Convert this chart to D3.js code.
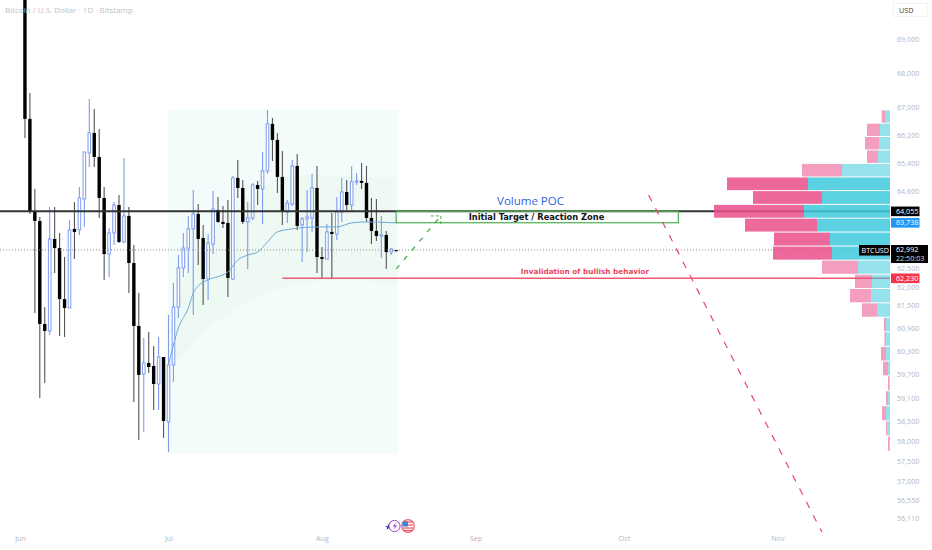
<!DOCTYPE HTML>
<html>
<head>
    <meta charset="UTF-8">
    <title>BTCUSD</title>
    <style>
        html, body { margin: 0; padding: 0; background: #fff; }
        svg { display: block; font-family: "Open Sans", sans-serif; }
    </style>
    <script src="https://cdnjs.cloudflare.com/ajax/libs/d3/7.8.5/d3.min.js"></script>
</head>
<body>
<svg id="chart" width="932" height="550"></svg>
<script>
    // daily candles, 2 Jun to 16 Aug
    var opens = [71370,66661,64036,63788,61013,60829,63293,63045,61672,61435,63568,63541,64394,65687,66259,65574,64422,62882,63458,64228,
        63211,63926,62640,60960,59710,59993,59916,59452,60148,58486,59942,61461,62506,63045,63568,63981,63321,62210,63156,64091,
        63761,63733,62210,64984,64703,63761,63871,64787,64675,65181,66517,66058,65012,64036,64256,65321,63678,63843,63871,64703,
        62802,62748,63486,63431,64036,64591,64228,64872,64900,64844,63871,63513,63376,63403,62936,62990];
    var highs = [71400,67411,64675,63898,61461,64173,64173,63458,62802,63816,64311,64731,65715,67235,66948,66374,64731,63596,64311,64506,
        65546,64173,63128,61833,60645,60803,60434,60671,60148,61250,62102,62855,63458,63926,64647,64256,63678,63431,64619,64450,
        64201,64366,65040,65490,64928,64311,64844,64900,65715,66919,66689,66259,65743,64366,65490,65659,63898,64647,65096,65321,
        63073,63706,64008,64450,64984,64928,65321,65125,65406,65321,64422,64394,63926,63513,63045,62990];
    var lows = [66115,63981,61303,59092,59478,60724,62371,60698,60671,61435,62748,63403,63623,65293,65293,63871,62183,62264,63128,63183,
        63183,61833,58990,58032,58234,59736,58788,58788,58083,57731,59504,61171,62264,62371,61250,62587,61513,61645,62882,63733,
        63596,61726,62183,64422,63706,62479,63816,64228,63706,65096,65462,64563,63678,63733,64201,63541,62667,62936,63486,62371,
        62210,62748,62210,63266,63761,64091,64091,64787,64675,63761,63156,63238,62775,62479,62855,62963];
    var closes = [66661,64036,63788,61013,60829,63293,63045,61672,61435,63541,63486,64422,65715,66259,65574,64422,62882,63458,64228,63211,
        63926,62640,60960,59685,59993,59890,59452,60148,58511,59942,61461,62506,63045,63568,63981,63293,62210,63183,64118,63761,
        63706,62237,64984,64703,63761,63871,64787,64675,65181,66517,66058,65012,64036,64283,65321,63651,63843,63898,64703,62802,
        62748,63486,63431,64036,64591,64228,64872,64900,64844,63871,63513,63376,63403,62936,63018,62963];

    // anchored vwap and its band
    var vwapDates = ["2024-07-01","2024-07-02","2024-07-03","2024-07-05","2024-07-06","2024-07-07","2024-07-09","2024-07-13","2024-07-15",
        "2024-07-17","2024-07-19","2024-07-21","2024-07-23","2024-07-26","2024-07-31","2024-08-04","2024-08-07","2024-08-10","2024-08-16"];
    var vwapValues = [59942,60461,60908,61435,61833,62022,62183,62398,62721,62855,62936,63211,63486,63568,63623,63623,63733,63761,63733];
    var bandDates = ["2024-07-01","2024-07-03","2024-07-06","2024-07-09","2024-07-13","2024-07-19","2024-07-26","2024-08-01","2024-08-06","2024-08-16"];
    var bandUpper = [59942,61645,62721,63403,64091,64647,65068,65068,65040,64984];
    var bandLower = [59942,60071,60460,60934,61250,61726,62049,62156,62183,62049];

    // volume profile, top row first
    var vpTop = 66920;
    var vpStep = 382;
    var vpBuy = [4.3,10,11,12,48,82,68,86,73,60,58,32,18,19,13,4,4,4,2,1,2,4,3,1];
    var vpSell = [4,13,14,11,40,81,69,90,72,56,59,36,17,21,15,2,1.5,5,5,1,2,4,1,1];
    var vpValueArea = [5,6,7,8,9,10];

    var priceTicks = [69000,68000,67000,66200,65400,64600,62500,62000,61500,60900,60300,59700,59100,58500,58000,57500,57000,56550,56110];
    var monthTicks = ["2024-06-01","2024-07-01","2024-08-01","2024-09-01","2024-10-01","2024-11-01"];
    var monthNames = ["Jun","Jul","Aug","Sep","Oct","Nov"];

    var pocPrice = 64055, lastPrice = 62992, vwapPrice = 63738, stopPrice = 62230;
    var countdown = "22:50:03";

    var parse = d3.utcParse("%Y-%m-%d");
    var candleDates = d3.utcDay.range(parse("2024-06-02"), parse("2024-08-17"));

    var svg = d3.select("#chart");
    var axisX = 890;
    var labelSize = 7.2;
    var labelColor = "#b5b6ba";

    var x = d3.scaleUtc().domain([parse("2024-06-01"), parse("2024-11-01")]).range([20, 777.35]);
    var y = d3.scaleLog().domain([69000, 56110]).range([39, 518]);
    var vol = d3.scaleLinear().domain([0, 176]).range([axisX, 714]);

    var defs = svg.append("defs");
    defs.append("clipPath").attr("id", "plot").append("rect")
        .attr("x", 0).attr("y", 0).attr("width", axisX).attr("height", 550);

    var plot = svg.append("g").attr("clip-path", "url(#plot)");

    // shaded session box
    plot.append("rect")
        .attr("x", x(parse("2024-07-01")) - 1)
        .attr("width", x(parse("2024-08-17")) - x(parse("2024-07-01")) - 2)
        .attr("y", y(66920))
        .attr("height", y(57700) - y(66920))
        .attr("fill", "#f3fcfb");

    var bandArea = d3.area()
        .x(function (d) { return x(parse(d)); })
        .y0(function (d, i) { return y(bandLower[i]); })
        .y1(function (d, i) { return y(bandUpper[i]); })
        .curve(d3.curveMonotoneX);
    plot.append("path").attr("d", bandArea(bandDates)).attr("fill", "#edf9f2");

    // candles
    var candles = plot.selectAll("g.candle").data(candleDates).enter().append("g").attr("class", "candle");
    function isUp(i) { return closes[i] >= opens[i]; }
    candles.append("line")
        .attr("x1", function (d) { return x(d); })
        .attr("x2", function (d) { return x(d); })
        .attr("y1", function (d, i) { return y(highs[i]); })
        .attr("y2", function (d, i) { return y(lows[i]); })
        .attr("stroke", function (d, i) { return isUp(i) ? "#7f9bf0" : "#555"; })
        .attr("stroke-width", 1.1);
    candles.append("rect")
        .attr("x", function (d, i) { return x(d) - (isUp(i) ? 1.3 : 1.7); })
        .attr("width", function (d, i) { return isUp(i) ? 2.6 : 3.4; })
        .attr("y", function (d, i) { return y(Math.max(opens[i], closes[i])); })
        .attr("height", function (d, i) { return Math.max(1.2, Math.abs(y(opens[i]) - y(closes[i]))); })
        .attr("fill", function (d, i) { return isUp(i) ? "#fff" : "#000"; })
        .attr("stroke", function (d, i) { return isUp(i) ? "#7f9bf0" : "none"; })
        .attr("stroke-width", 1);

    var vwapLine = d3.line()
        .x(function (d) { return x(parse(d)); })
        .y(function (d, i) { return y(vwapValues[i]); })
        .curve(d3.curveMonotoneX);
    plot.append("path").attr("d", vwapLine(vwapDates))
        .attr("fill", "none").attr("stroke", "#6fa8dc").attr("stroke-width", 1);

    // horizontal levels
    plot.append("line").attr("x1", 0).attr("x2", axisX)
        .attr("y1", y(lastPrice)).attr("y2", y(lastPrice))
        .attr("stroke", "#8a8a8a").attr("stroke-width", 1).attr("stroke-dasharray", "1,2");
    plot.append("line").attr("x1", 0).attr("x2", axisX)
        .attr("y1", y(pocPrice)).attr("y2", y(pocPrice))
        .attr("stroke", "#333").attr("stroke-width", 2);
    plot.append("line").attr("x1", x(parse("2024-07-24"))).attr("x2", axisX)
        .attr("y1", y(stopPrice)).attr("y2", y(stopPrice))
        .attr("stroke", "#ef5a72").attr("stroke-width", 1.5);

    // target zone
    plot.append("rect")
        .attr("x", x(parse("2024-08-16")))
        .attr("width", x(parse("2024-10-12")) - x(parse("2024-08-16")))
        .attr("y", y(pocPrice))
        .attr("height", y(vwapPrice) - y(pocPrice))
        .attr("fill", "none").attr("stroke", "#4caf50").attr("stroke-width", 1.2);

    // volume profile
    var rows = plot.selectAll("g.vp").data(vpBuy).enter().append("g").attr("class", "vp")
        .attr("opacity", function (d, i) { return vpValueArea.indexOf(i) >= 0 ? 0.85 : 0.55; });
    function rowTop(i) { return y(vpTop - i * vpStep) + 0.5; }
    function rowHeight(i) { return y(vpTop - (i + 1) * vpStep) - y(vpTop - i * vpStep) - 1; }
    rows.append("rect")
        .attr("x", function (d) { return vol(d); })
        .attr("width", function (d) { return axisX - vol(d); })
        .attr("y", function (d, i) { return rowTop(i); })
        .attr("height", function (d, i) { return rowHeight(i); })
        .attr("fill", "#40c9dd");
    rows.append("rect")
        .attr("x", function (d, i) { return vol(d + vpSell[i]); })
        .attr("width", function (d, i) { return vol(d) - vol(d + vpSell[i]); })
        .attr("y", function (d, i) { return rowTop(i); })
        .attr("height", function (d, i) { return rowHeight(i); })
        .attr("fill", "#ea4f8a");

    // drawn projections
    var tline = d3.line()
        .x(function (d) { return x(parse(d[0])); })
        .y(function (d) { return y(d[1]); });
    plot.append("path")
        .attr("d", tline([["2024-10-06", 64506], ["2024-11-10", 55770]]))
        .attr("fill", "none").attr("stroke", "#e8476a").attr("stroke-width", 1.2).attr("stroke-dasharray", "7,8");
    plot.append("path")
        .attr("d", tline([["2024-08-16", 62479], ["2024-08-25", 63926]]))
        .attr("fill", "none").attr("stroke", "#4caf50").attr("stroke-width", 1.3).attr("stroke-dasharray", "5,7");
    plot.append("path")
        .attr("d", tline([["2024-08-23", 63926], ["2024-08-25", 63926], ["2024-08-25", 63706]]))
        .attr("fill", "none").attr("stroke", "#4caf50").attr("stroke-width", 1).attr("stroke-dasharray", "3,2");

    // annotations
    svg.append("text").attr("x", 530.5).attr("y", y(pocPrice) - 6).attr("text-anchor", "middle")
        .attr("font-size", 11.5).attr("fill", "#2f62e0").text("Volume POC");
    svg.append("text").attr("x", 536.5).attr("y", y(pocPrice) + 9).attr("text-anchor", "middle")
        .attr("font-family", "DejaVu Sans").attr("font-weight", "bold").attr("font-size", 8.3).attr("fill", "#111")
        .text("Initial Target / Reaction Zone");
    svg.append("text").attr("x", 585).attr("y", y(stopPrice) - 4).attr("text-anchor", "middle")
        .attr("font-family", "DejaVu Sans").attr("font-weight", "bold").attr("font-size", 7.3).attr("fill", "#e8475f")
        .text("Invalidation of bullish behavior");
    svg.append("text").attr("x", 5).attr("y", 13)
        .attr("font-size", 8).attr("fill", "#bfc1c6").text("Bitcoin / U.S. Dollar · 1D · Bitstamp");

    // price axis
    var yAxis = d3.axisRight(y).tickValues(priceTicks).tickSize(0).tickPadding(0).tickFormat(d3.format(","));
    var gy = svg.append("g").attr("transform", "translate(897,0)").call(yAxis);
    gy.select(".domain").remove();
    gy.selectAll("text").attr("font-size", labelSize).attr("fill", labelColor).attr("font-family", "Open Sans");

    // time axis
    var xAxis = d3.axisBottom(x).tickValues(monthTicks.map(parse)).tickSize(0).tickPadding(0)
        .tickFormat(function (d, i) { return monthNames[i]; });
    var gx = svg.append("g").attr("transform", "translate(0,536)").call(xAxis);
    gx.select(".domain").remove();
    gx.selectAll("text").attr("font-size", labelSize).attr("fill", labelColor).attr("font-family", "Open Sans");

    // price tags
    function tag(price, bg, label) {
        var py = y(price);
        svg.append("rect").attr("x", 891).attr("y", py - 4.7).attr("width", 28.5).attr("height", 9.6).attr("fill", bg);
        svg.append("text").attr("x", 896).attr("y", py + 2.7).attr("font-size", labelSize).attr("fill", "#fff").text(label);
    }
    tag(pocPrice, "#000", d3.format(",")(pocPrice));
    tag(vwapPrice, "#2196f3", d3.format(",")(vwapPrice));
    tag(stopPrice, "#f23645", d3.format(",")(stopPrice));

    var ly = y(lastPrice);
    svg.append("rect").attr("x", 859).attr("y", ly - 5).attr("width", 31).attr("height", 10.5).attr("fill", "#000");
    svg.append("text").attr("x", 861.5).attr("y", ly + 2.8).attr("font-size", 7.2).attr("fill", "#fff").text("BTCUSD");
    svg.append("rect").attr("x", 891).attr("y", ly - 5).attr("width", 37).attr("height", 18).attr("fill", "#000");
    svg.append("text").attr("x", 896).attr("y", ly + 2.2).attr("font-size", labelSize).attr("fill", "#fff").text(d3.format(",")(lastPrice));
    svg.append("text").attr("x", 896).attr("y", ly + 11).attr("font-size", labelSize).attr("fill", "#ddd").text(countdown);

    // currency button
    svg.append("rect").attr("x", 893.5).attr("y", 3.5).attr("width", 34).attr("height", 13)
        .attr("fill", "#fff").attr("stroke", "#f3f3f3");
    svg.append("text").attr("x", 899).attr("y", 12.8).attr("font-size", 7.2).attr("fill", "#444").text("USD");

    // event badges on the time axis
    var badge = svg.append("g");
    badge.append("path").attr("d", d3.symbol(d3.symbolStar, 14)())
        .attr("transform", "translate(388.5,527)").attr("fill", "#3d2fa8");
    badge.append("circle").attr("cx", 394.5).attr("cy", 526).attr("r", 5.6)
        .attr("fill", "#fff").attr("stroke", "#a03fd0").attr("stroke-width", 1);
    badge.append("path").attr("d", "M396 522L392.8 526.5H395L393.6 530L397 525.2H394.8Z").attr("fill", "#a03fd0");
    badge.append("circle").attr("cx", 408).attr("cy", 526).attr("r", 6.3)
        .attr("fill", "#fff").attr("stroke", "#f0606e").attr("stroke-width", 1.2);
    badge.selectAll("line.stripe").data([-4, -1, 2, 4.5]).enter().append("line")
        .attr("x1", 403).attr("x2", 413)
        .attr("y1", function (d) { return 526 + d; }).attr("y2", function (d) { return 526 + d; })
        .attr("stroke", "#f0606e").attr("stroke-width", 1.3);
    badge.append("rect").attr("x", 402.5).attr("y", 521.5).attr("width", 5.5).attr("height", 5).attr("fill", "#3d86d8");
</script>
</body>
</html>
